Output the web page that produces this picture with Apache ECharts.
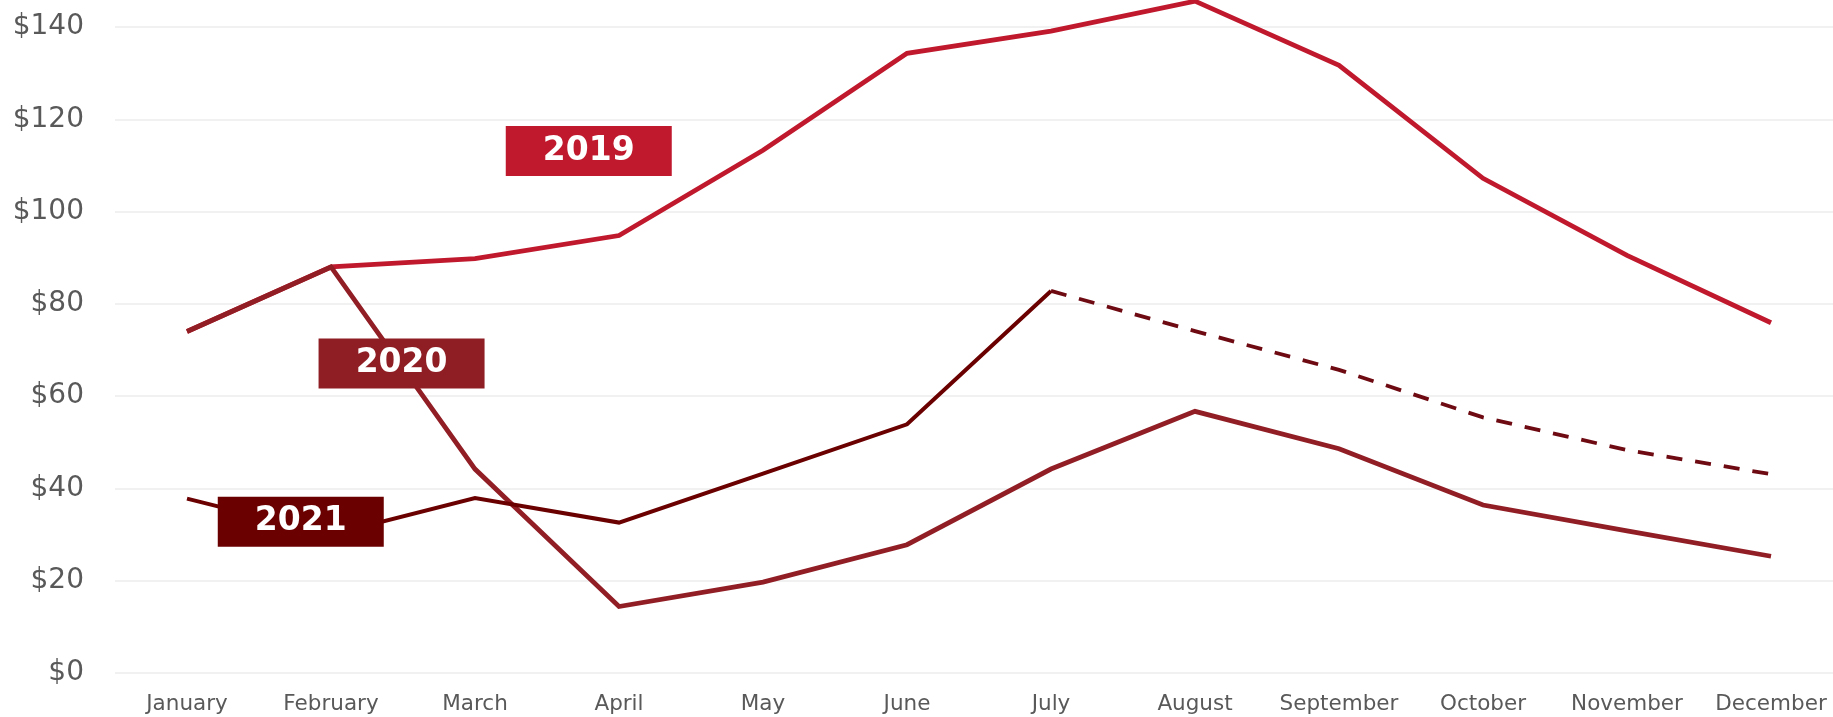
<!DOCTYPE html>
<html>
<head>
<meta charset="utf-8">
<script src="https://cdn.jsdelivr.net/npm/echarts@6/dist/echarts.min.js"></script>
<style>
  html, body { margin: 0; padding: 0; background: #fff; overflow: hidden; }
  #main { width: 1843px; height: 717px; }
</style>
</head>
<body>
<div id="main"></div>
<script>
var months = ['January', 'February', 'March', 'April', 'May', 'June', 'July',
              'August', 'September', 'October', 'November', 'December'];
var yTicks = [0, 20, 40, 60, 80, 100, 120, 140];

var sales2019 = [74, 88, 89.8, 94.8, 113.3, 134.3, 139.1, 145.6, 131.7, 107.2, 90.5, 75.9];
var sales2020 = [74, 88, 44.2, 14.4, 19.7, 27.8, 44.2, 56.7, 48.6, 36.4, 30.8, 25.3];
var sales2021 = [37.8, 30, 37.9, 32.6, 43.2, 53.9, 82.8, null, null, null, null, null];
var forecast2021 = [null, null, null, null, null, null, 82.8, 74.1, 65.7, 55.4, 48.3, 43.1];

// where the year tags sit: [month index, value]
var tag2019 = [2.79, 113.1];
var tag2020 = [1.49, 67.1];
var tag2021 = [0.79, 32.8];

var c2019 = '#c0192d';
var c2020 = '#911e25';
var c2021 = '#6b0000';

// the chart is a bit wider than the window, the right edge is cut off like in the source
var chart = echarts.init(document.getElementById('main'));

function lineSeries(name, data, color, width, dash) {
	return {
		name: name,
		type: 'line',
		data: data,
		symbol: 'none',
		clip: false,
		connectNulls: false,
		lineStyle: { color: color, width: width, type: dash || 'solid', join: 'miter' },
		itemStyle: { color: color }
	};
}

function tagSeries(text, spot, color) {
	return {
		type: 'scatter',
		xAxisIndex: 1,
		data: [spot],
		symbol: 'rect',
		symbolSize: [166, 50],
		z: 10,
		itemStyle: { color: color, opacity: 1 },
		label: {
			show: true,
			position: 'inside',
			formatter: text,
			color: '#fff',
			fontFamily: 'DejaVu Sans',
			fontWeight: 'bold',
			fontSize: 33
		},
		emphasis: { disabled: true }
	};
}

var option = {
	animation: false,
	grid: { left: 115, right: 0, top: 27, bottom: 44 },
	xAxis: [{
		type: 'category',
		data: months,
		boundaryGap: true,
		axisLine: { show: false },
		axisTick: { show: false },
		axisLabel: {
			color: '#595959',
			fontFamily: 'DejaVu Sans',
			fontSize: 21.5,
			margin: 20,
			interval: 0
		}
	}, {
		type: 'value',
		min: -0.5,
		max: 11.5,
		show: false
	}],
	yAxis: {
		type: 'value',
		min: yTicks[0],
		max: yTicks[yTicks.length - 1],
		interval: 20,
		axisLine: { show: false },
		axisTick: { show: false },
		splitLine: { lineStyle: { color: '#ececec', width: 1.5 } },
		axisLabel: {
			color: '#595959',
			fontFamily: 'DejaVu Sans',
			fontSize: 28,
			margin: 31,
			formatter: function (v) { return '$' + v; }
		}
	},
	series: [
		lineSeries('2019', sales2019, c2019, 4.8),
		lineSeries('2020', sales2020, c2020, 4.8),
		lineSeries('2021', sales2021, c2021, 4),
		lineSeries('2021 forecast', forecast2021, '#6e0a12', 3.8, [16, 13]),
		tagSeries('2019', tag2019, c2019),
		tagSeries('2020', tag2020, '#8f1e24'),
		tagSeries('2021', tag2021, c2021)
	]
};

chart.setOption(option);
</script>
</body>
</html>
